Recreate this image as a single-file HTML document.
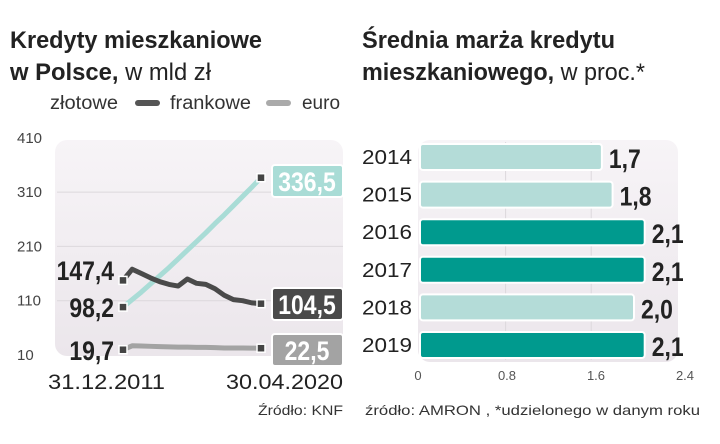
<!DOCTYPE html>
<html><head><meta charset="utf-8"><style>
body{margin:0;background:#fff;width:720px;height:444px;overflow:hidden}
svg{display:block}
.n{font-family:"Liberation Sans Narrow","Liberation Sans",sans-serif}
.s{font-family:"Liberation Sans",sans-serif}
</style></head><body>
<svg id="c" width="720" height="444" xmlns="http://www.w3.org/2000/svg">
<defs><linearGradient id="bg" x1="0" y1="0" x2="0" y2="1"><stop offset="0" stop-color="#f7f4f7"/><stop offset="1" stop-color="#ebe6eb"/></linearGradient></defs>
<text class="n" x="10" y="48" font-size="24" font-weight="bold" fill="#222" textLength="252" lengthAdjust="spacingAndGlyphs">Kredyty mieszkaniowe</text>
<text class="n" x="10" y="80" font-size="24" fill="#222" textLength="201" lengthAdjust="spacingAndGlyphs"><tspan font-weight="bold">w Polsce,</tspan> w mld zł</text>
<g>
<text class="n" x="50" y="109" font-size="19" fill="#333" textLength="68" lengthAdjust="spacingAndGlyphs">złotowe</text>
<rect x="135" y="100" width="25" height="6" rx="3" fill="#555"/>
<text class="n" x="170" y="109" font-size="19" fill="#333" textLength="81" lengthAdjust="spacingAndGlyphs">frankowe</text>
<rect x="266" y="100" width="25" height="6" rx="3" fill="#aaa"/>
<text class="n" x="302" y="109" font-size="19" fill="#333" textLength="38" lengthAdjust="spacingAndGlyphs">euro</text>
</g>
<text class="n" x="362" y="48" font-size="24" font-weight="bold" fill="#222" textLength="253" lengthAdjust="spacingAndGlyphs">Średnia marża kredytu</text>
<text class="n" x="362" y="80" font-size="24" fill="#222" textLength="283" lengthAdjust="spacingAndGlyphs"><tspan font-weight="bold">mieszkaniowego,</tspan> w proc.*</text>
<rect x="55" y="140" width="288" height="216" rx="12" fill="url(#bg)"/>
<rect x="418" y="140" width="260" height="222" rx="12" fill="url(#bg)"/>
<g id="left"></g><g id="right"></g>
<text class="s" x="258" y="415" font-size="14" fill="#333" textLength="85" lengthAdjust="spacingAndGlyphs">Źródło: KNF</text>
<text class="s" x="365" y="415" font-size="14" fill="#333" textLength="335" lengthAdjust="spacingAndGlyphs">źródło: AMRON , *udzielonego w danym roku</text>
</svg>
<script>
const yTicks=[10,110,210,310,410];
const zlotowe=[98.2,112,126,141,156,171,187,203,219,235,252,268,285,302,319,336.5];
const frankowe=[147.4,168,160,152,145,140,137,150,142,140,132,120,112,110,106,104.5];
const euro=[19.7,27,26.5,26,25.5,25,24.5,24.5,24,24,23.5,23,23,22.8,22.6,22.5];
const bCats=["2014","2015","2016","2017","2018","2019"];
const bVals=[1.7,1.8,2.1,2.1,2.0,2.1];
const bLabels=["1,7","1,8","2,1","2,1","2,0","2,1"];
const bHighlight=[false,false,true,true,false,true];
const xTicks=[0,0.8,1.6,2.4];
const xTickLabels=["0","0.8","1.6","2.4"];
const NS="http://www.w3.org/2000/svg";
function mk(p,t,a,txt){const e=document.createElementNS(NS,t);for(const k in a)e.setAttribute(k,a[k]);if(txt!==undefined)e.textContent=txt;p.appendChild(e);return e;}
function narrow(p,x0,y0,a,txt){a.transform='translate('+x0+','+y0+') scale(0.85,1)';a.x=0;a.y=0;return mk(p,'text',a,txt);}
const L=document.getElementById('left'),R=document.getElementById('right');
const y=v=>355-(v-10)*0.543;
const x=i=>123+i*(261-123)/(zlotowe.length-1);
yTicks.forEach(t=>{
 if(t>10&&t<410){const g=mk(L,'line',{x1:57,x2:343,y1:y(t),y2:y(t),stroke:'#dcd8dc','stroke-width':1});}
 const e=mk(L,'text',{x:17,y:y(t)+5,'font-size':15,fill:'#444',class:'s'},String(t));
 
 
});
const series=[[zlotowe,'#a9dcd6','zlotowe','336,5','#a9dcd6',165],[frankowe,'#4a4a4a','frankowe','104,5','#4a4a4a',288],[euro,'#a3a3a3','euro','22,5','#a3a3a3',334]];
const startLabels=[['98,2',307],['147,4',270],['19,7',350]];
series.forEach((s,si)=>{
 const d=s[0].map((v,i)=>(i?'L':'M')+x(i)+' '+y(v)).join(' ');
 const p=mk(L,'path',{d:d,fill:'none',stroke:s[1],'stroke-width':5,'stroke-linejoin':'round','stroke-linecap':'round'});
 
 
 [0,s[0].length-1].forEach(i=>{const m=mk(L,'rect',{x:x(i)-4,y:y(s[0][i])-4,width:8,height:8,fill:'#444',stroke:'#fff','stroke-width':1.5});});
 const b=mk(L,'rect',{x:272,y:s[5],width:71,height:32,rx:3,fill:s[4],stroke:'#fff','stroke-width':2});
 
 
 const t=narrow(L,307,s[5]+26,{'font-size':27,'font-weight':'bold',fill:'#fff','text-anchor':'middle',class:'n'},s[3]);
 
 
});
startLabels.forEach(l=>{const t=narrow(L,114,l[1]+10,{'font-size':27,'font-weight':'bold',fill:'#222','text-anchor':'end',class:'n'},l[0]);});
const d1=mk(L,'text',{x:48,y:389,'font-size':21,fill:'#222',class:'s',textLength:117,lengthAdjust:'spacingAndGlyphs'},'31.12.2011');
const d2=mk(L,'text',{x:226,y:389,'font-size':21,fill:'#222',class:'s',textLength:117,lengthAdjust:'spacingAndGlyphs'},'30.04.2020');
const bx=v=>420+v*107;
xTicks.forEach((t,i)=>{
 if(t>0&&t<2.4){const g=mk(R,'line',{x1:bx(t),x2:bx(t),y1:142,y2:360,stroke:'#dcd8dc'});}
 const e=mk(R,'text',{x:418+i*89,y:380,'font-size':13,fill:'#555','text-anchor':'middle',class:'s'},xTickLabels[i]);
 
 
});
bCats.forEach((c,i)=>{
 const cy=157+i*37.6;
 const t=mk(R,'text',{x:362,y:cy+7,'font-size':20,fill:'#222',class:'s',textLength:50,lengthAdjust:'spacingAndGlyphs'},c);
 
 
 const r=mk(R,'rect',{x:420,y:cy-13,width:bx(bVals[i])-420,height:26,rx:3,fill:bHighlight[i]?'#009a8e':'#b4dcd8',stroke:'#fff','stroke-width':2});
 
 
 const v=narrow(R,bx(bVals[i])+7,cy+11,{'font-size':27,'font-weight':'bold',fill:'#222',class:'n'},bLabels[i]);
 
 
});
</script>
</body></html>
